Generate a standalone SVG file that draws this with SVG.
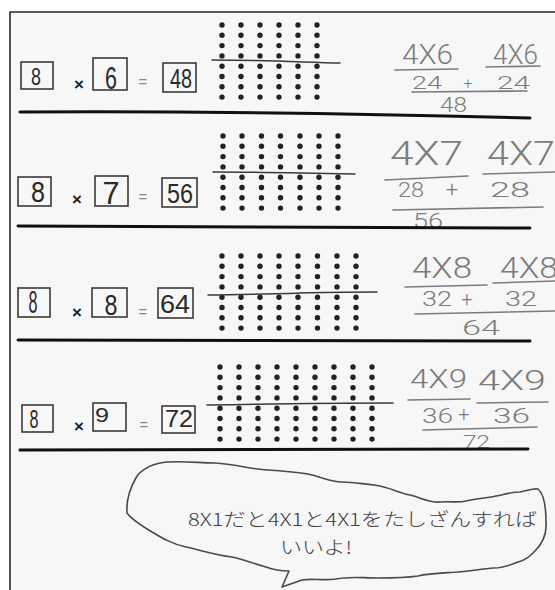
<svg xmlns="http://www.w3.org/2000/svg" xmlns:xlink="http://www.w3.org/1999/xlink" width="555" height="590" viewBox="0 0 555 590">
  <style>
    .frame { fill: none; stroke: #2a2a2a; stroke-width: 1.6; }
    .box { fill: none; stroke: #2e2e2e; stroke-width: 1.5; }
    .dig { font-family: "Liberation Sans", Arial, sans-serif; fill: #2a2a2a; text-anchor: middle; }
    .times { font-family: "Liberation Sans", Arial, sans-serif; font-weight: bold; font-size: 17px; fill: #1e1e1e; text-anchor: middle; }
    .eq { font-family: "Liberation Sans", Arial, sans-serif; font-size: 15px; fill: #8a8a8a; text-anchor: middle; }
    .rule { fill: none; stroke: #111; stroke-width: 3; stroke-linecap: round; }
    .cross { fill: none; stroke: #3a3a3a; stroke-width: 1.5; stroke-linecap: round; }
    .hw { font-family: Roboto, "Liberation Sans", sans-serif; font-weight: 300; fill: #7c7c7c; }
    .frac { fill: none; stroke: #7c7c7c; stroke-width: 1.6; stroke-linecap: round; }
    .bubble { fill: none; stroke: #4a4a4a; stroke-width: 1.6; stroke-linejoin: round; }
    .jp { font-family: "Noto Sans CJK JP", "Noto Sans", sans-serif; font-size: 18px; fill: #3e3e3e; font-weight: 300; }
    .dot { fill: #222; }
  </style>
  <defs>
    <g id="col">
      <circle class="dot" cx="0" cy="0" r="2.7"/>
      <circle class="dot" cx="0" cy="10.3" r="2.7"/>
      <circle class="dot" cx="0" cy="20.6" r="2.7"/>
      <circle class="dot" cx="0" cy="30.9" r="2.7"/>
      <circle class="dot" cx="0" cy="41.2" r="2.7"/>
      <circle class="dot" cx="0" cy="51.5" r="2.7"/>
      <circle class="dot" cx="0" cy="61.8" r="2.7"/>
      <circle class="dot" cx="0" cy="72.1" r="2.7"/>
    </g>
  </defs>

  <rect x="0" y="0" width="555" height="590" fill="#ffffff"/>
  <rect x="10" y="12" width="545" height="578" fill="#f7f7f7"/>
  <path class="frame" d="M10,590 L10,12 L555,12"/>

  <!-- Row 1: 8 x 6 = 48 -->
  <g id="row1">
    <rect class="box" x="21" y="62" width="32" height="27"/>
    <text class="dig" x="36" y="85" font-size="23" textLength="10" lengthAdjust="spacingAndGlyphs">8</text>
    <text class="times" x="79" y="90">×</text>
    <rect class="box" x="93" y="58" width="34" height="32"/>
    <text class="dig" x="111" y="89" font-size="31" textLength="12" lengthAdjust="spacingAndGlyphs">6</text>
    <text class="eq" x="143" y="87">=</text>
    <rect class="box" x="163" y="63" width="33" height="29"/>
    <text class="dig" x="181" y="88" font-size="28" textLength="22" lengthAdjust="spacingAndGlyphs">48</text>
    <g id="dots1">
      <use xlink:href="#col" x="222" y="25"/>
      <use xlink:href="#col" x="241" y="25"/>
      <use xlink:href="#col" x="260" y="25"/>
      <use xlink:href="#col" x="279" y="25"/>
      <use xlink:href="#col" x="298" y="25"/>
      <use xlink:href="#col" x="317" y="25"/>
    </g>
    <path class="cross" d="M212,60 C260,60 300,62 340,63"/>
    <text class="hw" x="402" y="64" font-size="28" textLength="51" lengthAdjust="spacingAndGlyphs">4X6</text>
    <text class="hw" x="493" y="64" font-size="27" textLength="45" lengthAdjust="spacingAndGlyphs">4X6</text>
    <path class="frac" d="M395,70 L458,69"/>
    <path class="frac" d="M486,67 L540,66"/>
    <text class="hw" x="412" y="89" font-size="18" textLength="30" lengthAdjust="spacingAndGlyphs">24</text>
    <text class="hw" x="468" y="89" font-size="16" text-anchor="middle">+</text>
    <text class="hw" x="497" y="89" font-size="18" textLength="33" lengthAdjust="spacingAndGlyphs">24</text>
    <path class="frac" d="M412,92 L527,91"/>
    <text class="hw" x="440" y="112" font-size="21" textLength="27" lengthAdjust="spacingAndGlyphs">48</text>
    <path class="rule" d="M20,112 C200,111 350,113 530,118"/>
  </g>

  <!-- Row 2: 8 x 7 = 56 -->
  <g id="row2">
    <rect class="box" x="18" y="177" width="33" height="29"/>
    <text class="dig" x="38" y="202" font-size="30" textLength="14" lengthAdjust="spacingAndGlyphs">8</text>
    <text class="times" x="77" y="205">×</text>
    <rect class="box" x="95" y="176" width="33" height="30"/>
    <text class="dig" x="111" y="204" font-size="32" textLength="17" lengthAdjust="spacingAndGlyphs">7</text>
    <text class="eq" x="143" y="202">=</text>
    <rect class="box" x="162" y="178" width="35" height="29"/>
    <text class="dig" x="180" y="203" font-size="27" textLength="26" lengthAdjust="spacingAndGlyphs">56</text>
    <g id="dots2">
      <use xlink:href="#col" x="223" y="136"/>
      <use xlink:href="#col" x="242" y="136"/>
      <use xlink:href="#col" x="261.5" y="136"/>
      <use xlink:href="#col" x="280.5" y="136"/>
      <use xlink:href="#col" x="300" y="136"/>
      <use xlink:href="#col" x="319" y="136"/>
      <use xlink:href="#col" x="338" y="136"/>
    </g>
    <path class="cross" d="M213,172 C260,172 310,173 355,174"/>
    <text class="hw" x="390" y="165" font-size="34" textLength="73" lengthAdjust="spacingAndGlyphs">4X7</text>
    <text class="hw" x="487" y="165" font-size="33" textLength="68" lengthAdjust="spacingAndGlyphs">4X7</text>
    <path class="frac" d="M385,180 L468,176"/>
    <path class="frac" d="M483,174 L555,172"/>
    <text class="hw" x="398" y="197" font-size="20" textLength="26" lengthAdjust="spacingAndGlyphs">28</text>
    <text class="hw" x="452" y="197" font-size="22" text-anchor="middle">+</text>
    <text class="hw" x="490" y="197" font-size="20" textLength="40" lengthAdjust="spacingAndGlyphs">28</text>
    <path class="frac" d="M393,210 L543,207"/>
    <text class="hw" x="413" y="228" font-size="20" textLength="30" lengthAdjust="spacingAndGlyphs">56</text>
    <path class="rule" d="M18,226 L530,228"/>
  </g>

  <!-- Row 3: 8 x 8 = 64 -->
  <g id="row3">
    <rect class="box" x="18" y="288" width="32" height="29"/>
    <text class="dig" x="33" y="313" font-size="31" textLength="9" lengthAdjust="spacingAndGlyphs">8</text>
    <text class="times" x="77" y="318">×</text>
    <rect class="box" x="92" y="288" width="35" height="29"/>
    <text class="dig" x="111" y="315" font-size="30" textLength="13" lengthAdjust="spacingAndGlyphs">8</text>
    <text class="eq" x="143" y="317">=</text>
    <rect class="box" x="158" y="288" width="35" height="30"/>
    <text class="dig" x="175" y="313" font-size="25" textLength="30" lengthAdjust="spacingAndGlyphs">64</text>
    <g id="dots3">
      <use xlink:href="#col" x="222" y="256"/>
      <use xlink:href="#col" x="241" y="256"/>
      <use xlink:href="#col" x="260" y="256"/>
      <use xlink:href="#col" x="279" y="256"/>
      <use xlink:href="#col" x="298" y="256"/>
      <use xlink:href="#col" x="317.5" y="256"/>
      <use xlink:href="#col" x="337" y="256"/>
      <use xlink:href="#col" x="356" y="256"/>
    </g>
    <path class="cross" d="M208,295 C250,294 280,294 300,293 C330,292 355,292 377,292"/>
    <text class="hw" x="412" y="278" font-size="29" textLength="60" lengthAdjust="spacingAndGlyphs">4X8</text>
    <text class="hw" x="500" y="278" font-size="29" textLength="58" lengthAdjust="spacingAndGlyphs">4X8</text>
    <path class="frac" d="M405,287 L487,285"/>
    <path class="frac" d="M493,283 L555,281"/>
    <text class="hw" x="422" y="306" font-size="20" textLength="30" lengthAdjust="spacingAndGlyphs">32</text>
    <text class="hw" x="467" y="306" font-size="20" text-anchor="middle">+</text>
    <text class="hw" x="505" y="306" font-size="20" textLength="32" lengthAdjust="spacingAndGlyphs">32</text>
    <path class="frac" d="M415,314 L555,311"/>
    <text class="hw" x="462" y="335" font-size="21" textLength="38" lengthAdjust="spacingAndGlyphs">64</text>
    <path class="rule" d="M18,340 L530,341"/>
  </g>

  <!-- Row 4: 8 x 9 = 72 -->
  <g id="row4">
    <rect class="box" x="22" y="405" width="31" height="27"/>
    <text class="dig" x="34" y="428" font-size="25" textLength="9" lengthAdjust="spacingAndGlyphs">8</text>
    <text class="times" x="79" y="432">×</text>
    <rect class="box" x="93" y="403" width="33" height="28"/>
    <text class="dig" x="102" y="422" font-size="21" textLength="14" lengthAdjust="spacingAndGlyphs">9</text>
    <text class="eq" x="144" y="430">=</text>
    <rect class="box" x="162" y="406" width="33" height="27"/>
    <text class="dig" x="179" y="427" font-size="24" textLength="28" lengthAdjust="spacingAndGlyphs">72</text>
    <g id="dots4">
      <use xlink:href="#col" x="220" y="367"/>
      <use xlink:href="#col" x="239" y="367"/>
      <use xlink:href="#col" x="258" y="367"/>
      <use xlink:href="#col" x="277" y="367"/>
      <use xlink:href="#col" x="296" y="367"/>
      <use xlink:href="#col" x="315" y="367"/>
      <use xlink:href="#col" x="334" y="367"/>
      <use xlink:href="#col" x="353" y="367"/>
      <use xlink:href="#col" x="372" y="367"/>
    </g>
    <path class="cross" d="M207,405 C260,404 330,403 393,403"/>
    <text class="hw" x="410" y="388" font-size="26" textLength="57" lengthAdjust="spacingAndGlyphs">4X9</text>
    <text class="hw" x="478" y="390" font-size="27" textLength="68" lengthAdjust="spacingAndGlyphs">4X9</text>
    <path class="frac" d="M408,400 L470,399"/>
    <path class="frac" d="M477,403 L548,402"/>
    <text class="hw" x="422" y="423" font-size="20" textLength="31" lengthAdjust="spacingAndGlyphs">36</text>
    <text class="hw" x="464" y="421" font-size="20" text-anchor="middle">+</text>
    <text class="hw" x="493" y="423" font-size="20" textLength="37" lengthAdjust="spacingAndGlyphs">36</text>
    <path class="frac" d="M423,430 L537,427"/>
    <text class="hw" x="463" y="448" font-size="18" textLength="27" lengthAdjust="spacingAndGlyphs">72</text>
    <path class="rule" d="M20,450 L528,449"/>
  </g>

  <!-- Speech bubble -->
  <g id="bubble">
    <path class="bubble" d="M127,513 C126,500 131,486 137,476 C145,466 156,463 168,462 C185,461 200,463 215,463 C235,464 250,469 268,470 C285,471 295,472 308,474 C322,477 330,482 342,482 C355,482 362,484 374,485 C390,487 398,493 410,495 C422,498 430,503 440,502 C452,501 458,503 466,501 C478,498 488,498 496,496 C506,494 512,492 520,492 C527,491 533,488 538,489 C545,495 546,510 546,522 C547,535 541,545 535,551 C530,556 526,560 518,562 C510,565 504,568 494,568 C482,569 470,571 458,572 C445,573 430,573 418,576 C404,578 392,578 378,578 C362,578 350,576 336,579 C322,581 312,578 302,580 L282,587 L289,571 C280,571 274,570 266,567 C252,563 242,559 232,557 C215,555 200,550 186,547 C172,544 162,538 152,532 C142,526 132,520 127,513 Z"/>
    <text class="jp" x="188" y="526" textLength="349" lengthAdjust="spacingAndGlyphs">8X1だと4X1と4X1をたしざんすれば</text>
    <text class="jp" x="280" y="554" textLength="72" lengthAdjust="spacingAndGlyphs">いいよ!</text>
  </g>
</svg>
